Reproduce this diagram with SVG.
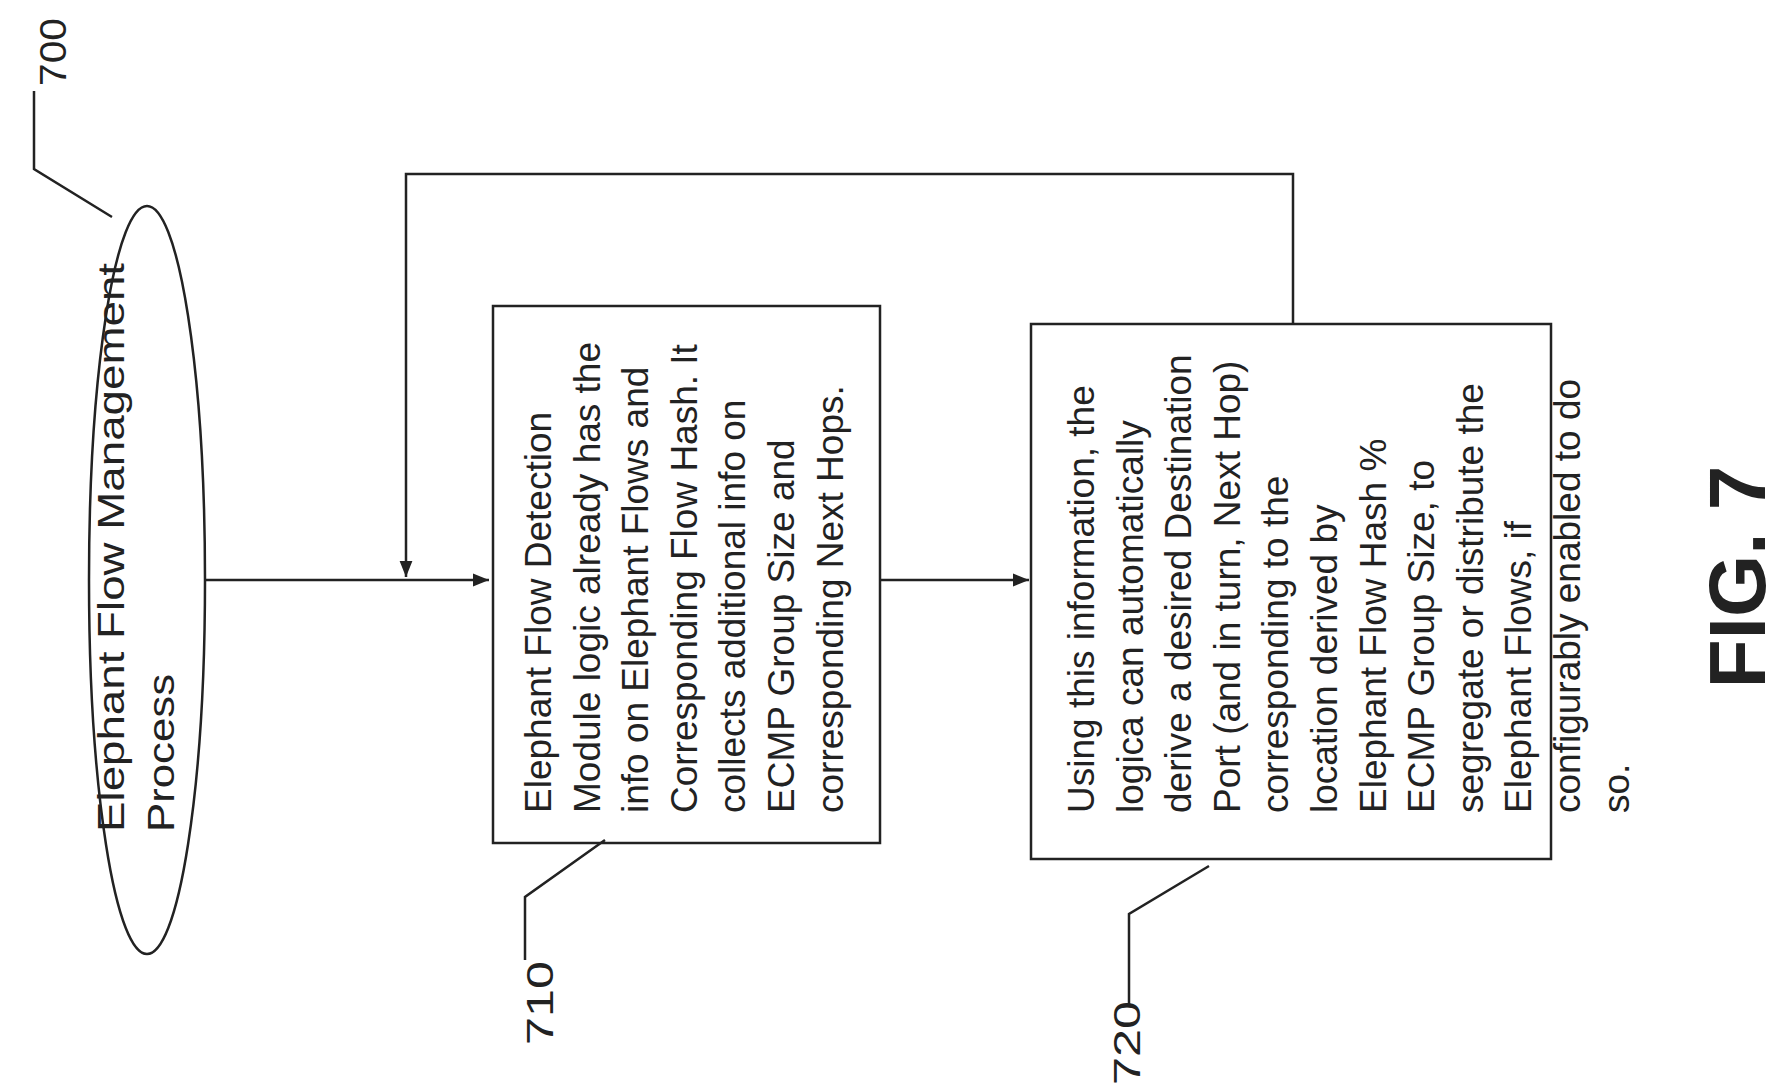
<svg xmlns="http://www.w3.org/2000/svg" width="1782" height="1092" viewBox="0 0 1782 1092">
<style>
.s{fill:none;stroke:#222;stroke-width:2.5}
.t{font-family:"Liberation Sans",Arial,sans-serif;font-size:37px;fill:#222}
.l{font-family:"Liberation Sans",Arial,sans-serif;font-size:36px;fill:#222}
</style>
<defs>
<marker id="b" viewBox="0 0 10 10" refX="10" refY="5" markerWidth="16" markerHeight="16" orient="auto" markerUnits="userSpaceOnUse"><path d="M0,1L10,5L0,9z" fill="#222"/></marker></defs>
<rect width="1782" height="1092" fill="#fff"/>
<g id="n700">
<ellipse class="s" cx="147" cy="580" rx="58" ry="374"/>
<text class="t" font-size="40" transform="translate(124,832) rotate(-90)"><tspan x="0" y="0" textLength="569" lengthAdjust="spacingAndGlyphs">Elephant Flow Management</tspan><tspan x="0" dy="50" textLength="158" lengthAdjust="spacingAndGlyphs">Process</tspan></text>
</g>
<g id="n710">
<rect class="s" x="493" y="306" width="387" height="537"/>
<text class="t" transform="translate(551,813) rotate(-90)"><tspan x="0" y="0">Elephant Flow Detection</tspan><tspan x="0" dy="48.6">Module logic already has the</tspan><tspan x="0" dy="48.6">info on Elephant Flows and</tspan><tspan x="0" dy="48.6">Corresponding Flow Hash. It</tspan><tspan x="0" dy="48.6">collects additional info on</tspan><tspan x="0" dy="48.6">ECMP Group Size and</tspan><tspan x="0" dy="48.6">corresponding Next Hops.</tspan></text>
</g>
<g id="n720">
<rect class="s" x="1031" y="324" width="520" height="535"/>
<text class="t" transform="translate(1094,813) rotate(-90)"><tspan x="0" y="0">Using this information, the</tspan><tspan x="0" dy="48.6">logica can automatically</tspan><tspan x="0" dy="48.6">derive a desired Destination</tspan><tspan x="0" dy="48.6">Port (and in turn, Next Hop)</tspan><tspan x="0" dy="48.6">corresponding to the</tspan><tspan x="0" dy="48.6">location derived by</tspan><tspan x="0" dy="48.6">Elephant Flow Hash %</tspan><tspan x="0" dy="48.6">ECMP Group Size, to</tspan><tspan x="0" dy="48.6">segregate or distribute the</tspan><tspan x="0" dy="48.6">Elephant Flows, if</tspan><tspan x="0" dy="48.6">configurably enabled to do</tspan><tspan x="0" dy="48.6">so.</tspan></text>
</g>
<g id="connectors">
<path class="s" d="M206,580H489" marker-end="url(#b)"/>
<path class="s" d="M880,580H1029" marker-end="url(#b)"/>
<path class="s" d="M1293,324V174H406V577" marker-end="url(#b)"/>
<path class="s" d="M34,91V169L112,217"/>
<path class="s" d="M525,960V897L605,840"/>
<path class="s" d="M1129,1005V914L1209,866"/>
</g>
<g id="labels">
<text class="l" transform="translate(66,86) rotate(-90)" textLength="68" lengthAdjust="spacingAndGlyphs">700</text>
<text class="l" transform="translate(553,1045) rotate(-90)" textLength="84" lengthAdjust="spacingAndGlyphs">710</text>
<text class="l" transform="translate(1140,1085) rotate(-90)" textLength="84" lengthAdjust="spacingAndGlyphs">720</text>
<text font-family="Liberation Sans,Arial,sans-serif" font-weight="bold" font-size="80" fill="#222" text-anchor="middle" transform="translate(1765,577) rotate(-90)">FIG. 7</text>
</g>
</svg>
